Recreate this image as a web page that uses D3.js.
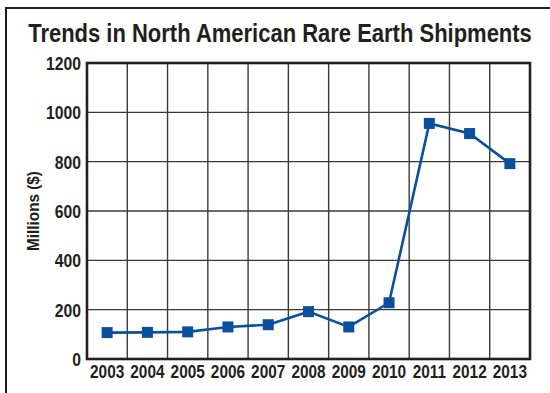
<!doctype html>
<html>
  <head>
    <title>Trends in North American Rare Earth Shipments</title>
    <style>
      body { margin: 0; background: #fff; }
      text { font-family: 'Liberation Sans', Arial, sans-serif; font-weight: bold; fill: #231f20; }
    </style>
  </head>
  <body>
    <svg width='550' height='393'></svg>

  <script src='https://d3js.org/d3.v7.min.js'></script>
  <script>
// Data.
var years = ['2003', '2004', '2005', '2006', '2007', '2008', '2009', '2010', '2011', '2012', '2013'];
var shipments = [107, 108, 110, 130, 139, 192, 130, 228, 955, 914, 792];
var yTicks = [0, 200, 400, 600, 800, 1000, 1200];

var svg = d3.select('svg'),
  margin = {left: 87, right: 20, top: 63, bottom: 34},
  width = +svg.attr('width'),
  height = +svg.attr('height');

// squeeze text horizontally so it looks like the condensed face of the original
function condense(sel, k) {
  sel.attr('transform', function() {
    var old = d3.select(this).attr('transform') || '';
    return old + ' scale(' + k + ',1)';
  });
}

// Outer frame (only top and left edges visible in the crop).
svg.append('path')
  .attr('d', 'M6,' + height + 'V8H' + width)
  .attr('fill', 'none')
  .attr('stroke', '#231f20')
  .attr('stroke-width', 2);

var title = svg.append('text')
  .attr('x', 0)
  .attr('y', 0)
  .attr('text-anchor', 'middle')
  .attr('font-size', 25)
  .text('Trends in North American Rare Earth Shipments');
var tw = title.node().getComputedTextLength();
title.attr('transform', 'translate(280,42) scale(' + (504 / tw) + ',1)');

var x = d3.scaleBand()
  .domain(years)
  .range([margin.left, width - margin.right]);

var y = d3.scaleLinear()
  .domain([0, 1200])
  .range([height - margin.bottom, margin.top]);

// Grid lines
svg.append('g')
  .selectAll('line')
  .data(yTicks.slice(1, -1))
  .join('line')
  .attr('x1', x.range()[0]).attr('x2', x.range()[1])
  .attr('y1', function(d) { return y(d); })
  .attr('y2', function(d) { return y(d); })
  .attr('stroke', '#3a3a3a')
  .attr('stroke-width', 1.4);

svg.append('g')
  .selectAll('line')
  .data(years.slice(1))
  .join('line')
  .attr('x1', function(d) { return x(d); })
  .attr('x2', function(d) { return x(d); })
  .attr('y1', y(0)).attr('y2', y(1200))
  .attr('stroke', '#3a3a3a')
  .attr('stroke-width', 1.4);

// Plot frame
svg.append('rect')
  .attr('x', x.range()[0])
  .attr('y', y(1200))
  .attr('width', x.range()[1] - x.range()[0])
  .attr('height', y(0) - y(1200))
  .attr('fill', 'none')
  .attr('stroke', '#231f20')
  .attr('stroke-width', 2.6);

// Axes (tick text only)
var yAxis = svg.append('g')
  .attr('transform', 'translate(' + (x.range()[0] - 6) + ',1)')
  .call(d3.axisLeft(y).tickValues(yTicks).tickFormat(d3.format('d')).tickSize(0).tickPadding(0));
yAxis.select('.domain').remove();
yAxis.selectAll('text')
  .attr('font-size', 17.5)
  .attr('font-family', null)
  .attr('fill', null)
  .call(condense, 0.9);

var xAxis = svg.append('g')
  .attr('transform', 'translate(0,' + y(0) + ')')
  .call(d3.axisBottom(x).tickSize(0).tickPadding(7));
xAxis.select('.domain').remove();
xAxis.selectAll('text')
  .attr('font-size', 17.5)
  .attr('font-family', null)
  .attr('fill', null)
  .call(condense, 0.88);

svg.append('text')
  .attr('transform', 'translate(39,' + ((y(0) + y(1200)) / 2) + ') rotate(-90) scale(0.9,1)')
  .attr('text-anchor', 'middle')
  .attr('font-size', 17)
  .text('Millions ($)');

// Series line and square markers
var cx = function(d, i) { return x(years[i]) + x.bandwidth() / 2; };

svg.append('path')
  .datum(shipments)
  .attr('d', d3.line().x(cx).y(function(d) { return y(d); }))
  .attr('fill', 'none')
  .attr('stroke', '#0a509e')
  .attr('stroke-width', 2.6);

svg.append('g')
  .selectAll('rect')
  .data(shipments)
  .join('rect')
  .attr('x', function(d, i) { return cx(d, i) - 5.5; })
  .attr('y', function(d) { return y(d) - 5.5; })
  .attr('width', 11)
  .attr('height', 11)
  .attr('fill', '#0a509e');
  </script>
  </body>
</html>
